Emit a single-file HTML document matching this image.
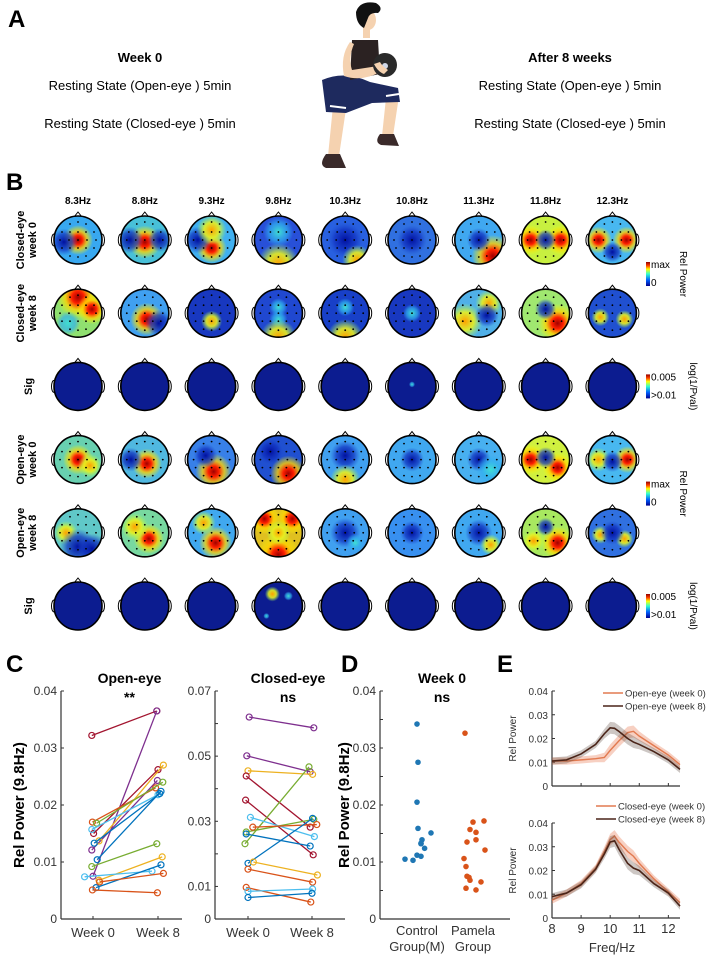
<!DOCTYPE html>
<html><head><meta charset="utf-8"><style>
html,body{margin:0;padding:0;background:#fff;}
svg{display:block;font-family:"Liberation Sans",Arial,sans-serif;}
</style></head><body>
<svg id="fig" width="709" height="956" viewBox="0 0 709 956" xmlns="http://www.w3.org/2000/svg">
<defs>
<radialGradient id="g-red"><stop offset="0" stop-color="#a00000"/><stop offset="0.3" stop-color="#ff2000"/><stop offset="0.6" stop-color="#ffd000" stop-opacity="0.8"/><stop offset="1" stop-color="#ffff00" stop-opacity="0"/></radialGradient>
<radialGradient id="g-yel"><stop offset="0" stop-color="#ffa000"/><stop offset="0.5" stop-color="#e8f020" stop-opacity="0.9"/><stop offset="1" stop-color="#a0ff60" stop-opacity="0"/></radialGradient>
<radialGradient id="g-cyan"><stop offset="0" stop-color="#40e0d0"/><stop offset="0.6" stop-color="#30b0f0" stop-opacity="0.7"/><stop offset="1" stop-color="#30b0f0" stop-opacity="0"/></radialGradient>
<radialGradient id="g-blue"><stop offset="0" stop-color="#0010a0"/><stop offset="0.6" stop-color="#1030c0" stop-opacity="0.7"/><stop offset="1" stop-color="#2050d0" stop-opacity="0"/></radialGradient>
<linearGradient id="cbar" x1="0" y1="1" x2="0" y2="0"><stop offset="0" stop-color="#00008f"/><stop offset="0.25" stop-color="#0060ff"/><stop offset="0.5" stop-color="#30ffd0"/><stop offset="0.7" stop-color="#ffff00"/><stop offset="0.85" stop-color="#ff4000"/><stop offset="1" stop-color="#8f0000"/></linearGradient>
</defs>

<!-- Panel A -->
<text x="8" y="27" font-size="24" font-weight="bold">A</text>
<text x="140" y="62" font-size="13" font-weight="bold" text-anchor="middle">Week 0</text>
<text x="140" y="90" font-size="13" text-anchor="middle">Resting State (Open-eye ) 5min</text>
<text x="140" y="128" font-size="13" text-anchor="middle">Resting State (Closed-eye ) 5min</text>
<text x="570" y="62" font-size="13" font-weight="bold" text-anchor="middle">After 8 weeks</text>
<text x="570" y="90" font-size="13" text-anchor="middle">Resting State (Open-eye ) 5min</text>
<text x="570" y="128" font-size="13" text-anchor="middle">Resting State (Closed-eye ) 5min</text>

<g>
  <path d="M333 106 L346 109 L339 156 L328 156 Z" fill="#f5d2b0"/>
  <path d="M386 98 L399 96 L393 136 L382 136 Z" fill="#f5d2b0"/>
  <path d="M326 154 Q318 165 326 168 L346 168 L340 154 Z" fill="#3a2a2a"/>
  <path d="M380 134 Q374 142 381 145 L399 146 L394 134 Z" fill="#3a2a2a"/>
  <path d="M322 80 Q345 70 370 82 L398 88 L400 102 L372 103 L346 113 L326 112 Z" fill="#1e2a5e"/>
  <path d="M330 106 L346 108" stroke="#fff" stroke-width="2"/>
  <path d="M386 96 L399 94" stroke="#fff" stroke-width="2"/>
  <path d="M352 40 L378 40 L380 74 L350 80 Z" fill="#2b2222"/>
  <path d="M350 42 Q340 56 344 76 Q362 82 380 72 L378 66 L352 70 Q348 58 354 44 Z" fill="#f5d2b0"/>
  <circle cx="385" cy="65" r="12" fill="#2a2a2a"/>
  <circle cx="385" cy="66" r="3" fill="#cfd8e8"/>
  <path d="M374 64 Q378 72 384 74 L388 70 Q382 66 380 62 Z" fill="#f5d2b0"/>
  <rect x="363" y="26" width="7" height="12" fill="#f5d2b0"/>
  <ellipse cx="368" cy="20" rx="8" ry="10" fill="#f5d2b0"/>
  <path d="M356 12 Q360 0 376 3 Q384 8 378 13 Q370 12 368 18 L364 28 Q356 24 356 12 Z" fill="#111"/>
</g>

<!-- Panel B -->
<text x="6" y="190" font-size="24" font-weight="bold">B</text>
<g id="topo"></g>

<text x="6" y="672" font-size="24" font-weight="bold">C</text>
<text x="341" y="672" font-size="24" font-weight="bold">D</text>
<text x="497" y="672" font-size="24" font-weight="bold">E</text>
<g id="charts"></g>
</svg>
<script>
const NS="http://www.w3.org/2000/svg";
function mk(parent,tag,attrs,text){const e=document.createElementNS(NS,tag);for(const k in attrs)e.setAttribute(k,attrs[k]);if(text!==undefined)e.textContent=text;parent.appendChild(e);return e;}

/* ---------- Panel B data ---------- */
const freqLabels=["8.3Hz","8.8Hz","9.3Hz","9.8Hz","10.3Hz","10.8Hz","11.3Hz","11.8Hz","12.3Hz"];
const rowLabels=[["Closed-eye","week 0"],["Closed-eye","week 8"],["Sig"],["Open-eye","week 0"],["Open-eye","week 8"],["Sig"]];
const topoBase=[
 ["#38a8f0","#48c0d8","#40b0f0","#2850d8","#2860e0","#3070e0","#40a8f0","#c8f040","#48b8f0"],
 ["#90e070","#40a0f0","#1838c0","#2048d0","#1840c8","#1838c0","#50b0e8","#a0e870","#2050d0"],
 ["#0c1c90","#0c1c90","#0c1c90","#0c1c90","#0c1c90","#0c1c90","#0c1c90","#0c1c90","#0c1c90"],
 ["#68d0b0","#50b8e0","#3880e8","#2050d0","#40a0f0","#40a8f0","#48b0f0","#d0f040","#48b8f0"],
 ["#60c8c8","#78d8a0","#40a8f0","#e0c020","#40a0f0","#3890f0","#40a8f0","#a8e860","#3070e0"],
 ["#0c1c90","#0c1c90","#0c1c90","#0c1c90","#0c1c90","#0c1c90","#0c1c90","#0c1c90","#0c1c90"]];
const topoBlobs=[
 [[[0,0,10,"g-red"],[-14,2,9,"g-blue"]],[[0,2,11,"g-red"],[-15,0,9,"g-blue"],[15,0,8,"g-blue"]],[[0,8,10,"g-red"],[-14,0,9,"g-blue"],[0,-10,10,"g-yel"]],[[0,24,14,"g-yel"],[0,-8,10,"g-cyan"]],[[0,0,12,"g-blue"],[12,20,10,"g-yel"]],[[0,0,10,"g-blue"]],[[14,16,14,"g-red"],[0,0,8,"g-blue"]],[[-15,0,10,"g-red"],[15,0,10,"g-red"],[0,0,7,"g-blue"]],[[-14,0,9,"g-red"],[14,0,9,"g-red"],[0,12,7,"g-blue"]]],
 [[[0,-16,14,"g-red"],[14,-4,10,"g-red"],[-10,10,8,"g-cyan"]],[[2,6,11,"g-red"],[14,10,9,"g-blue"]],[[0,8,7,"g-yel"]],[[0,-6,6,"g-cyan"],[0,6,6,"g-cyan"],[0,24,12,"g-yel"]],[[0,24,12,"g-yel"],[0,-6,6,"g-cyan"]],[[0,0,6,"g-cyan"]],[[-14,8,12,"g-yel"],[10,-10,9,"g-yel"],[8,2,8,"g-blue"]],[[12,10,13,"g-red"],[0,-4,7,"g-blue"]],[[-12,4,6,"g-yel"],[12,6,6,"g-yel"]]],
 [[],[],[],[],[],[[0,-2,2,"g-cyan"]],[],[],[]],
 [[[0,0,10,"g-red"],[12,6,8,"g-yel"]],[[2,4,10,"g-red"],[-14,0,8,"g-blue"]],[[2,12,12,"g-red"],[-6,-4,8,"g-blue"]],[[10,14,12,"g-red"],[-8,-8,9,"g-blue"]],[[0,-4,10,"g-blue"],[0,20,10,"g-yel"]],[[0,0,8,"g-blue"]],[[0,0,8,"g-blue"],[12,10,10,"g-cyan"]],[[-15,0,10,"g-red"],[12,8,10,"g-red"],[0,-2,7,"g-blue"]],[[-14,0,8,"g-yel"],[15,0,9,"g-red"],[0,2,7,"g-blue"]]],
 [[[-12,0,8,"g-yel"],[0,14,12,"g-blue"],[14,16,10,"g-blue"]],[[4,6,10,"g-red"],[-10,-6,9,"g-yel"]],[[4,10,11,"g-red"],[-8,-10,8,"g-yel"]],[[-14,-14,10,"g-red"],[14,-14,10,"g-red"],[0,22,14,"g-red"],[0,0,8,"g-yel"]],[[0,0,10,"g-blue"],[10,10,6,"g-cyan"]],[[0,0,8,"g-blue"]],[[0,0,9,"g-blue"],[12,12,7,"g-yel"]],[[12,10,11,"g-red"],[-12,8,8,"g-yel"],[0,-6,6,"g-blue"]],[[-12,2,6,"g-yel"],[12,6,6,"g-yel"],[0,0,8,"g-blue"]]],
 [[],[],[],[[-6,-12,5,"g-yel"],[10,-10,3,"g-cyan"],[-12,10,2,"g-cyan"]],[],[],[],[],[]]];

const colX0=78, colStep=66.8, rowY0=240, rowStep=73.2, R=24;
const elec=[[0,-18],[-8,-16],[8,-16],[-16,-8],[-8,-8],[0,-8],[8,-8],[16,-8],[-18,0],[-9,0],[0,0],[9,0],[18,0],[-16,8],[-8,8],[0,8],[8,8],[16,8],[-8,16],[0,17],[8,16]];
const topo=document.getElementById('topo');
freqLabels.forEach((f,c)=>{
  const t=mk(topo,'text',{x:colX0+c*colStep,y:204,'font-size':10,'font-weight':'bold','text-anchor':'middle'},f);
  
  
});
rowLabels.forEach((lbl,r)=>{
  const cy=rowY0+r*rowStep;
  const g=mk(topo,'g',{transform:`translate(${lbl.length>1?24:28},${cy}) rotate(-90)`});
  
  
  if(lbl.length>1){mk(g,'text',{x:0,y:0,'font-size':11,'font-weight':'bold','text-anchor':'middle'},lbl[0]);mk(g,'text',{x:0,y:12,'font-size':11,'font-weight':'bold','text-anchor':'middle'},lbl[1]);}
  else mk(g,'text',{x:0,y:4,'font-size':11,'font-weight':'bold','text-anchor':'middle'},lbl[0]);
  for(let c=0;c<9;c++){
    const cx=colX0+c*colStep;
    const mg=mk(topo,'g',{});
    
    
    const cid='clip'+r+'_'+c;
    const cp=mk(mg,'clipPath',{id:cid});mk(cp,'circle',{cx:cx,cy:cy,r:R});
    mk(mg,'path',{d:`M${cx-4} ${cy-R+1} L${cx} ${cy-R-4} L${cx+4} ${cy-R+1}`,fill:'none',stroke:'#000','stroke-width':1});
    mk(mg,'ellipse',{cx:cx-R,cy:cy,rx:2.5,ry:6,fill:'none',stroke:'#000','stroke-width':1});
    mk(mg,'ellipse',{cx:cx+R,cy:cy,rx:2.5,ry:6,fill:'none',stroke:'#000','stroke-width':1});
    const inner=mk(mg,'g',{'clip-path':`url(#${cid})`});
    mk(inner,'circle',{cx:cx,cy:cy,r:R,fill:topoBase[r][c]});
    topoBlobs[r][c].forEach(b=>mk(inner,'circle',{cx:cx+b[0],cy:cy+b[1],r:b[2]*1.5,fill:`url(#${b[3]})`}));
    if(rowLabels[r][0]!=="Sig") elec.forEach(e=>mk(inner,'circle',{cx:cx+e[0],cy:cy+e[1],r:0.9,fill:'#000'}));
    mk(mg,'circle',{cx:cx,cy:cy,r:R,fill:'none',stroke:'#000','stroke-width':1.6});
  }
});
[[0,"max","0","Rel Power"],[2,"0.005",">0.01","log(1/Pval)"],[3,"max","0","Rel Power"],[5,"0.005",">0.01","log(1/Pval)"]].forEach((cb,i)=>{
  const yc=rowY0+cb[0]*rowStep+ (cb[0]==0||cb[0]==3?34:0);
  const g=mk(topo,'g',{});
  
  
  mk(g,'rect',{x:646,y:yc-12,width:4,height:24,fill:'url(#cbar)'});
  mk(g,'text',{x:651,y:yc-6,'font-size':10},cb[1]);
  mk(g,'text',{x:651,y:yc+12,'font-size':10},cb[2]);
  mk(g,'text',{x:0,y:0,'font-size':10,'text-anchor':'middle',transform:`translate(${cb[1]=="max"?680:690},${yc}) rotate(90)`},cb[3]);
});

/* ---------- Panel C data ---------- */
const mcol=["#A2142F","#7E2F8E","#7E2F8E","#A2142F","#D95319","#EDB120","#77AC30","#4DBEEE","#0072BD","#0072BD","#77AC30","#EDB120","#4DBEEE","#0072BD","#D95319","#D95319"];
const openW0=[0.0322,0.0075,0.0121,0.0150,0.0170,0.0137,0.0168,0.0157,0.0133,0.0104,0.0092,0.0068,0.0074,0.0055,0.0065,0.0051];
const openW8=[0.0365,0.0365,0.0243,0.0262,0.0230,0.0270,0.0240,0.0218,0.0220,0.0224,0.0132,0.0109,0.0084,0.0095,0.0080,0.0046];
const openJ0=[-0.1,0,-0.1,0.05,-0.05,0.5,0.3,-0.1,0.1,0.35,-0.1,0.5,-0.7,0.25,0.55,-0.05];
const openJ8=[-0.1,-0.1,-0.05,0,-0.2,0.45,0.4,0,0.15,0.25,-0.1,0.35,-0.5,0.25,0.45,-0.05];
const closedCol=["#7E2F8E","#7E2F8E","#EDB120","#A2142F","#A2142F","#77AC30","#77AC30","#4DBEEE","#D95319","#0072BD","#0072BD","#EDB120","#D95319","#D95319","#4DBEEE","#0072BD"];
const closedW0=[0.0620,0.0501,0.0455,0.0439,0.0365,0.0231,0.0267,0.0312,0.0282,0.0261,0.0171,0.0175,0.0153,0.0097,0.0085,0.0066];
const closedW8=[0.0587,0.0452,0.0444,0.0282,0.0197,0.0467,0.0306,0.0253,0.0290,0.0224,0.0309,0.0135,0.0113,0.0052,0.0092,0.0079];
const closedJ0=[0.1,-0.1,0,-0.15,-0.2,-0.25,-0.15,0.2,0.4,-0.15,0,0.45,0,-0.15,0,0];
const closedJ8=[0.15,-0.15,0.05,-0.15,0.1,-0.25,0.15,0.2,0.4,-0.15,0.05,0.45,0.05,-0.1,0.05,0];
const weekCats=["Week 0","Week 8"];
const openTicks=[0,0.01,0.02,0.03,0.04], openTickLbl=["0","0.01","0.02","0.03","0.04"];
const closedTicks=[0,0.01,0.02,0.03,0.04,0.05,0.06,0.07], closedTickLbl=["0","0.01","","0.03","","0.05","","0.07"];
/* ---------- Panel D data ---------- */
const dCats=[["Control","Group(M)"],["Pamela","Group"]];
const ctrlVals=[0.0342,0.0275,0.0205,0.0159,0.0151,0.0139,0.0133,0.0132,0.0124,0.0112,0.0110,0.0105,0.0103];
const ctrlJit=[0,0.05,0,0.05,0.7,0.25,0.2,0.2,0.38,0,0.2,-0.6,-0.2];
const pamVals=[0.0326,0.0170,0.0172,0.0157,0.0152,0.0135,0.0139,0.0121,0.0106,0.0092,0.0075,0.0073,0.0068,0.0065,0.0054,0.0051];
const pamJit=[-0.4,0,0.55,-0.15,0.15,-0.3,0.15,0.6,-0.45,-0.35,-0.3,-0.2,-0.15,0.4,-0.35,0.15];
const dTicks=[0,0.005,0.01,0.015,0.02,0.025,0.03,0.035,0.04], dTickLbl=["0","","0.01","","0.02","","0.03","","0.04"];
/* ---------- Panel E data ---------- */
const eFreq=[8,8.5,9,9.5,9.8,10,10.15,10.3,10.6,10.8,11,11.5,12,12.4];
const openE0=[0.0105,0.0105,0.011,0.0115,0.012,0.015,0.017,0.019,0.0225,0.023,0.021,0.017,0.013,0.009];
const openE8=[0.0105,0.011,0.0135,0.0175,0.022,0.0245,0.0243,0.023,0.020,0.0185,0.0175,0.0145,0.011,0.007];
const closedE0=[0.0075,0.0105,0.0145,0.021,0.028,0.033,0.0345,0.032,0.028,0.026,0.023,0.0165,0.011,0.0065];
const closedE8=[0.009,0.0105,0.014,0.0205,0.027,0.032,0.0325,0.029,0.023,0.021,0.020,0.0145,0.0105,0.005];
const eSem=[0.0015,0.0015,0.0015,0.0015,0.002,0.0025,0.0025,0.0025,0.0025,0.0025,0.002,0.0015,0.0015,0.0015];
const eTicks=[0,0.01,0.02,0.03,0.04], eTickLbl=["0","0.01","0.02","0.03","0.04"];
const eXTicks=[8,9,10,11,12];

const ch=document.getElementById('charts');
function yAxis(g,x,yB,yT,max,ticks,lbls,fs){
  const y=v=>yB-(v/max)*(yB-yT);
  mk(g,'line',{x1:x,y1:yB,x2:x,y2:yT,stroke:'#333','stroke-width':1.2});
  ticks.forEach((t,i)=>{mk(g,'line',{x1:x,y1:y(t),x2:x+3,y2:y(t),stroke:'#333','stroke-width':1});
    if(lbls[i])mk(g,'text',{x:x-4,y:y(t)+4,'font-size':fs,'text-anchor':'end',fill:'#333'},lbls[i]);});
  return y;
}
function pairPlot(name,x0,xEnd,catX,max,ticks,lbls,w0,w8,j0,j8,cols,title){
  const g=mk(ch,'g',{});
  
  
  const yB=919,yT=691;
  const y=yAxis(g,x0,yB,yT,max,ticks,lbls,12);
  mk(g,'line',{x1:x0,y1:yB,x2:xEnd,y2:yB,stroke:'#333','stroke-width':1.2});
  const xs=c=>catX[c];
  weekCats.forEach((c,i)=>{mk(g,'line',{x1:xs(i),y1:yB,x2:xs(i),y2:yB-3,stroke:'#333'});
    mk(g,'text',{x:xs(i),y:937,'font-size':13,'text-anchor':'middle',fill:'#333'},c);});
  mk(g,'text',{x:(x0+xEnd)/2+8,y:683,'font-size':14,'font-weight':'bold','text-anchor':'middle'},title[0]);
  mk(g,'text',{x:(x0+xEnd)/2+8,y:702,'font-size':14,'font-weight':'bold','text-anchor':'middle'},title[1]);
  w0.forEach((v,i)=>{
    const xa=xs(0)+j0[i]*12, xb=xs(1)+j8[i]*12;
    const ln=mk(g,'line',{x1:xa,y1:y(v),x2:xb,y2:y(w8[i]),stroke:cols[i],'stroke-width':1.3});
    
    
    mk(g,'circle',{cx:xa,cy:y(v),r:3,fill:'none',stroke:cols[i],'stroke-width':1.2});
    mk(g,'circle',{cx:xb,cy:y(w8[i]),r:3,fill:'none',stroke:cols[i],'stroke-width':1.2});
  });
}
pairPlot('open-eye-paired-chart',61,182,[93,158],0.04,openTicks,openTickLbl,openW0,openW8,openJ0,openJ8,mcol,["Open-eye","**"]);
pairPlot('closed-eye-paired-chart',215,345,[248,312],0.07,closedTicks,closedTickLbl,closedW0,closedW8,closedJ0,closedJ8,closedCol,["Closed-eye","ns"]);
{const t=mk(ch,'text',{x:0,y:0,'font-size':15,'font-weight':'bold','text-anchor':'middle',transform:'translate(24,805) rotate(-90)'},'Rel Power (9.8Hz)');
}

// Panel D
{const g=mk(ch,'g',{});


const x0=380,xEnd=510,catX=[417,473];
const y=yAxis(g,x0,919,691,0.04,dTicks,dTickLbl,12);
mk(g,'line',{x1:x0,y1:919,x2:xEnd,y2:919,stroke:'#333','stroke-width':1.2});
dCats.forEach((c,i)=>{mk(g,'text',{x:catX[i],y:935,'font-size':13,'text-anchor':'middle',fill:'#333'},c[0]);mk(g,'text',{x:catX[i],y:951,'font-size':13,'text-anchor':'middle',fill:'#333'},c[1]);});
mk(g,'text',{x:442,y:683,'font-size':14,'font-weight':'bold','text-anchor':'middle'},'Week 0');
mk(g,'text',{x:442,y:702,'font-size':14,'font-weight':'bold','text-anchor':'middle'},'ns');
ctrlVals.forEach((v,i)=>{const p=mk(g,'circle',{cx:catX[0]+ctrlJit[i]*20,cy:y(v),r:2.8,fill:'#1f77b4'});});
pamVals.forEach((v,i)=>{const p=mk(g,'circle',{cx:catX[1]+pamJit[i]*20,cy:y(v),r:2.8,fill:'#D95319'});});
mk(g,'rect',{x:335,y:700,width:17,height:210,fill:'#fff'});
mk(g,'text',{x:0,y:0,'font-size':15,'font-weight':'bold','text-anchor':'middle',transform:'translate(349,805) rotate(-90)'},'Rel Power (9.8Hz)');
}

// Panel E
function spec(name,yB,yT,d0,d8,leg,legY,legX,showX){
  const g=mk(ch,'g',{});
  
  
  const x0=552,xEnd=680;
  const xs=f=>x0+(f-8)/(12.4-8)*(xEnd-x0);
  const y=yAxis(g,x0,yB,yT,0.04,eTicks,eTickLbl,10);
  mk(g,'line',{x1:x0,y1:yB,x2:xEnd,y2:yB,stroke:'#333','stroke-width':1.2});
  eXTicks.forEach(f=>{mk(g,'line',{x1:xs(f),y1:yB,x2:xs(f),y2:yB-3,stroke:'#333'});
    if(showX)mk(g,'text',{x:xs(f),y:yB+15,'font-size':13,'text-anchor':'middle',fill:'#333'},String(f));});
  [[d0,'rgba(232,120,80,0.35)','#E27A50',1.4],[d8,'rgba(90,70,60,0.3)','#4a2418',1.6]].forEach(([d,sh,lc,w])=>{
    let up='',dn='';
    d.forEach((v,i)=>{up+=(i?'L':'M')+xs(eFreq[i])+' '+y(v+eSem[i]);});
    for(let i=d.length-1;i>=0;i--)dn+='L'+xs(eFreq[i])+' '+y(d[i]-eSem[i]);
    mk(g,'path',{d:up+dn+'Z',fill:sh});
    let p='';d.forEach((v,i)=>{p+=(i?'L':'M')+xs(eFreq[i])+' '+y(v);});
    const ln=mk(g,'path',{d:p,fill:'none',stroke:lc,'stroke-width':w});
    
    
  });
  leg.forEach((l,i)=>{const ly=legY+i*13;
    mk(g,'line',{x1:legX,y1:ly,x2:legX+20,y2:ly,stroke:i?'#4a2418':'#E27A50','stroke-width':1.6});
    mk(g,'text',{x:legX+22,y:ly+3.5,'font-size':9.5,fill:'#333'},l);});
  mk(g,'text',{x:0,y:0,'font-size':10,'text-anchor':'middle',fill:'#333',transform:`translate(516,${(yB+yT)/2}) rotate(-90)`},'Rel Power');
}
spec('open-eye-spectrum',786,691,openE0,openE8,["Open-eye (week 0)","Open-eye (week 8)"],693,603,false);
spec('closed-eye-spectrum',918,823,closedE0,closedE8,["Closed-eye (week 0)","Closed-eye (week 8)"],806,596,true);
{const t=mk(ch,'text',{x:612,y:952,'font-size':13,'text-anchor':'middle',fill:'#333'},'Freq/Hz');
}
</script>
</body></html>
